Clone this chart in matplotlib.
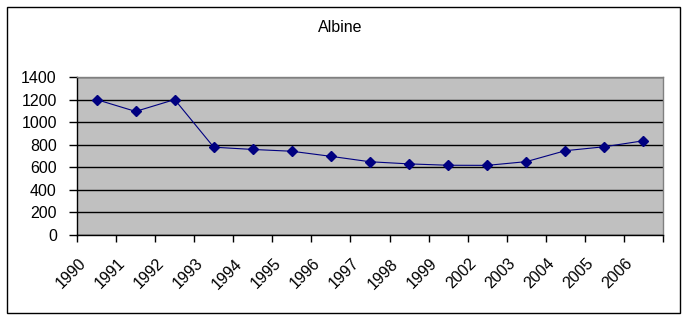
import matplotlib
matplotlib.use("Agg")
import matplotlib.pyplot as plt
from matplotlib.patches import Rectangle
from matplotlib.transforms import ScaledTranslation

years = ["1990", "1991", "1992", "1993", "1994", "1995", "1996", "1997",
         "1998", "1999", "2002", "2003", "2004", "2005", "2006"]
values = [1200, 1095, 1200, 778, 758, 742, 697, 649, 630, 618, 617, 650, 747, 782, 835]
yticks = [0, 200, 400, 600, 800, 1000, 1200, 1400]

plt.rcParams['font.family'] = ['Liberation Sans', 'DejaVu Sans']

W, H = 685, 317
fig = plt.figure(figsize=(W / 100, H / 100), dpi=100)
fig.patch.set_facecolor('white')

# outer border
fig.add_artist(Rectangle((7 / W, 4 / H), 673 / W, 306 / H, transform=fig.transFigure,
                         fill=False, edgecolor='black', linewidth=1.0))

ax = fig.add_axes([77 / W, 1 - 235 / H, 586 / W, 158 / H])
ax.set_facecolor('#C0C0C0')

n = len(years)
xs = [i + 0.5 for i in range(n)]
ax.plot(xs, values, color='#000080', linewidth=0.8, marker='D', markersize=5.5,
        markerfacecolor='#000080', markeredgecolor='#000080', zorder=3)

ax.set_xlim(0, n)
ax.set_ylim(0, 1400)
ax.set_yticks(yticks)
ax.set_yticklabels([str(v) for v in yticks], fontsize=11.5)
ax.yaxis.grid(True, color='black', linewidth=1.0)
ax.set_axisbelow(True)

ax.set_xticks(range(n + 1))
ax.set_xticklabels([])
ax.set_xticks(xs, minor=True)
ax.set_xticklabels(years, minor=True, rotation=45, ha='right', va='top', fontsize=11.5)
ax.tick_params(axis='x', which='minor', length=0, pad=15)
ax.tick_params(axis='x', which='major', length=5, width=1, direction='out', color='black')
ax.tick_params(axis='y', length=6, width=1, direction='out', color='black', pad=8.5)

offset = ScaledTranslation(-8 / 100, 0, fig.dpi_scale_trans)
for lab in ax.xaxis.get_minorticklabels():
    lab.set_transform(lab.get_transform() + offset)

for s in ['left', 'bottom']:
    ax.spines[s].set_color('black')
    ax.spines[s].set_linewidth(1.0)
for s in ['top', 'right']:
    ax.spines[s].set_color('#808080')
    ax.spines[s].set_linewidth(1.0)

fig.text(340 / W, 1 - 27 / H, "Albine", ha='center', va='center', fontsize=11.5)

fig.savefig("out.png", dpi=100)
